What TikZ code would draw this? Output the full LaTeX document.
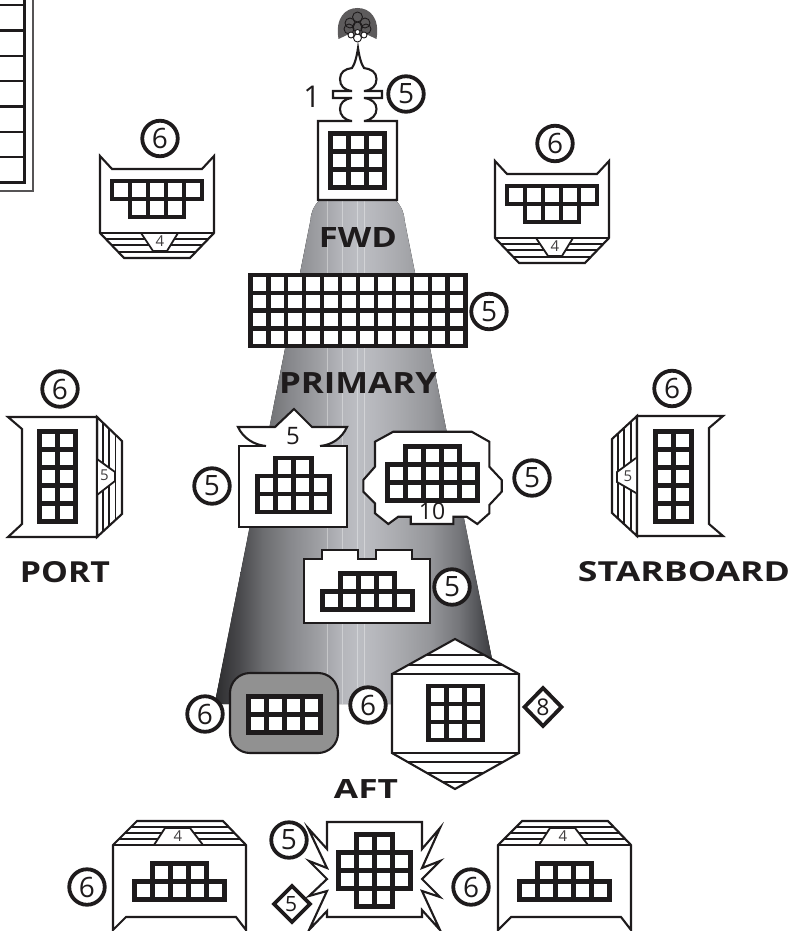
\documentclass[tikz,border=0pt]{standalone}
\usepackage{fontspec}
\usepackage{graphicx}
\setmainfont{Open Sans}
\definecolor{ink}{HTML}{1E1B1C}
\newcommand{\cellgrid}[3]{%
  \foreach \cc/\rr in {#3} {\draw[gridcell] ({#1+\cc*18},{#2+\rr*18}) rectangle ++(18,18);}}
\newcommand{\capword}[5]{\node[caplabel] (#1) at (#2,#3) {\resizebox{#4pt}{#5pt}{\bfseries\MakeUppercase{#1}}};}
\newcommand{\fwdblock}[4]{%
  \begin{scope}[shift={(#1,#2)}]
    \draw[outline] (100,156) -- (112,169) -- (202,169) -- (214,156) -- (214,233) -- (190,258) -- (124,258) -- (100,233) -- cycle;
    \begin{scope}
      \clip (100,233) -- (214,233) -- (190,258) -- (124,258) -- cycle;
      \foreach \yy in {239,245,252} {\draw[stripe] (100,\yy) -- (214,\yy);}
    \end{scope}
    \draw[outline] (100,233) -- (214,233);
    \fill[white] (141,234.2) -- (178,234.2) -- (167,251) -- (153,251) -- cycle;
    \draw[stripe] (141,233) -- (153,251) -- (167,251) -- (178,233);
    \node[tiny] (#3) at (160,241) {4};
    \cellgrid{112}{181}{0/0,1/0,2/0,3/0,4/0,1/1,2/1,3/1}
    \node[badge] (#4) at (160,138.5) {6};
  \end{scope}}
\newcommand{\aftblock}[2]{%
  \begin{scope}[shift={(#1,0)}]
    \draw[outline] (113,845) -- (137,821) -- (223,821) -- (246,845) -- (246,930) -- (236,917) -- (126,917) -- (113,930) -- cycle;
    \begin{scope}
      \clip (113,845) -- (137,821) -- (223,821) -- (246,845) -- cycle;
      \foreach \yy in {827,833,839} {\draw[stripe] (100,\yy) -- (240,\yy);}
    \end{scope}
    \draw[outline] (113,845) -- (246,845);
    \fill[white] (165,828) -- (190,828) -- (203,844) -- (154,844) -- cycle;
    \draw[stripe] (154,845) -- (165,828) -- (190,828) -- (203,845);
    \node[tiny] (#2) at (178,836) {4};
    \cellgrid{134.5}{863.5}{1/0,2/0,3/0,0/1,1/1,2/1,3/1,4/1}
  \end{scope}}
\tikzset{
  outline/.style={draw=ink,line width=2.1pt,fill=white,line join=miter},
  stripe/.style={draw=ink,line width=1.8pt},
  gridcell/.style={draw=ink,line width=4.3pt,fill=white},
  badge/.style={circle,draw=ink,line width=3.8pt,fill=white,minimum size=35.5pt,inner sep=0pt,text=ink,font=\fontsize{28}{28}\selectfont},
  tiny/.style={inner sep=0pt,text=ink!85,font=\fontsize{15}{15}\selectfont},
  caplabel/.style={inner sep=0pt,text=ink},
  diam/.style={draw=ink,line width=3.8pt,fill=white},
  band/.style={line width=0pt},
}
\begin{document}
\begin{tikzpicture}[x=1pt,y=-1pt]
\useasboundingbox (0,0) rectangle (792,931);
% cone
\begin{scope}
  \clip (320,200) -- (395,200) .. controls (401,205) and (404,212) .. (404.5,220) -- (501,704) -- (214.6,704) -- (310.5,220) .. controls (311,212) and (314,205) .. (320,200) -- cycle;
  \foreach \xa/\xb/\ca/\cb in {
    214/240/2B2B2D/4A4A4D, 240/262/4A4A4D/6B6C6F, 262/290/6B6C6F/87888C,
    290/320/87888C/A0A1A5, 320/342/A0A1A5/B5B6BB, 342/358/B5B6BB/BCBEC3,
    358/375/BCBEC3/B6B7BC, 375/400/B6B7BC/A8A9AD, 400/430/A8A9AD/95969A,
    430/460/95969A/737478, 460/480/737478/4F5054, 480/502/4F5054/2B2B2D} {
    \definecolor{ca}{HTML}{\ca}\definecolor{cb}{HTML}{\cb}
    \fill[left color=ca,right color=cb,band] (\xa,195) rectangle (\xb+0.4,710);
  }
  \foreach \xx in {327,342,357,364} {\draw[white,opacity=.35,line width=.7pt] (\xx,195) -- (\xx,710);}
\end{scope}
% partial table, upper left
\draw[draw=ink!75,line width=2.2pt] (33,-5) -- (33,191) -- (-5,191);
\draw[draw=ink,line width=2.8pt] (24.5,-5) -- (24.5,182.5);
\foreach \yy in {5,30.5,55.8,81,106.5,131.8,156.8,182.3} {\draw[draw=ink,line width=2.4pt] (-5,\yy) -- (25.5,\yy);}
% dome icon
\fill[ink!72] (338.5,39) .. controls (335,18) and (345,8) .. (357.5,8) .. controls (370,8) and (380,18) .. (376.5,39) -- (368,35) -- (347,35) -- cycle;
\begin{scope}[ink,line width=.9pt]
  \foreach \px/\py in {357.5/17,350/23,365/23,357.5/27,349/29,366/29} {\draw (\px,\py) circle (5);}
  \foreach \px/\py in {351/35,364/35} {\draw[fill=white] (\px,\py) circle (3);}
  \draw[fill=white] (357.5,38) circle (4);
  \draw[fill=white] (357.5,32) circle (2.5);
\end{scope}
% forward post
\draw[outline] (352,121) -- (318,121) -- (318,200) -- (397,200) -- (397,121) -- (364,121)
  .. controls (372,120) and (376.5,115) .. (376.5,109) .. controls (376.5,103) and (372,99) .. (364,98)
  -- (382,98) -- (382,91) -- (364,91)
  .. controls (372,90) and (376.5,86) .. (376.5,79) .. controls (376.5,72) and (371,69) .. (364,68)
  .. controls (361,64) and (359,55) .. (358,48) .. controls (357,55) and (355,64) .. (352,68)
  .. controls (345,69) and (340,72) .. (340,79) .. controls (340,86) and (344,90) .. (352,91)
  -- (333,91) -- (333,98) -- (352,98)
  .. controls (344,99) and (340,103) .. (340,109) .. controls (340,115) and (344,120) .. (352,121);
\node[inner sep=0pt,text=ink,font=\fontsize{30}{30}\selectfont] (one) at (312,97) {1};
\node[badge] (bfwd) at (406,94) {5};
\cellgrid{330.5}{133.5}{0/0,1/0,2/0,0/1,1/1,2/1,0/2,1/2,2/2}
% forward side blocks
\fwdblock{0}{0}{fl}{bfl}
\fwdblock{395}{5}{fr}{bfr}
% labels
\capword{Fwd}{358}{237}{78}{20}
% primary
\foreach \rr in {0,1,2,3} {\foreach \cc in {0,...,11} {\draw[gridcell] ({250.5+\cc*17.92},{274.8+\rr*17.85}) rectangle ++(17.92,17.85);}}
\node[badge] (bprim) at (489,311.5) {5};
\capword{Primary}{358}{382.5}{158}{21}
% port
\draw[outline] (97,417) -- (122,441) -- (122,514) -- (97,537) -- cycle;
\foreach \xx in {103,109,115.5} {\draw[stripe] (\xx,{417+(\xx-97)*.96}) -- (\xx,{537-(\xx-97)*.92});}
\draw[outline] (8,417) -- (97,417) -- (97,537) -- (8,537) -- (22,524) -- (22,429) -- cycle;
\fill[white] (98,459) -- (115,472) -- (115,481) -- (98,495) -- cycle;
\draw[stripe] (97,459) -- (115,472) -- (115,481) -- (97,495);
\node[tiny] (pnum) at (104.5,475.5) {5};
\cellgrid{39.5}{431.5}{0/0,1/0,0/1,1/1,0/2,1/2,0/3,1/3,0/4,1/4}
\node[badge] (bport) at (60,389) {6};
\capword{Port}{65}{572.5}{90}{21}
% starboard
\draw[outline] (637,416) -- (612,439) -- (612,513) -- (637,536) -- cycle;
\foreach \xx in {618,624,631} {\draw[stripe] (\xx,{416+(637-\xx)*.92}) -- (\xx,{536-(637-\xx)*.92});}
\draw[outline] (637,416) -- (723,416) -- (709,428) -- (709,524) -- (723,536) -- (637,536) -- cycle;
\fill[white] (636,458) -- (617,472) -- (617,482) -- (636,493) -- cycle;
\draw[stripe] (636,458) -- (617,472) -- (617,482) -- (636,493);
\node[tiny] (snum) at (628,476) {5};
\cellgrid{655.5}{431.5}{0/0,1/0,0/1,1/1,0/2,1/2,0/3,1/3,0/4,1/4}
\node[badge] (bstar) at (672,388.5) {6};
\capword{Starboard}{684}{572}{212}{20}
% hat block
\fill[white] (239,446) rectangle (347,527);
\draw[draw=ink,line width=2.1pt] (266,446) -- (239,446) -- (239,527) -- (347,527) -- (347,446) -- (320,446);
\fill[white] (238,427) -- (275,427) -- (294,409) -- (312,427) -- (347,427) .. controls (342,438) and (332,445) .. (320,446) -- (266,446) .. controls (254,445) and (243,438) .. (238,427) -- cycle;
\draw[draw=ink,line width=2.1pt] (266,446) .. controls (254,445) and (243,438) .. (238,427) -- (275,427) -- (294,409) -- (312,427) -- (347,427) .. controls (342,438) and (332,445) .. (320,446);
\node[inner sep=0pt,text=ink,font=\fontsize{24}{24}\selectfont] (hnum) at (293,436.5) {5};
\cellgrid{257.5}{458}{1/0,2/0,0/1,1/1,2/1,3/1,0/2,1/2,2/2,3/2}
\node[badge] (bhat) at (212,486) {5};
% octagonal block
\draw[outline] (375,441.7) -- (393.3,431.7) -- (471.7,431.7) -- (489.3,441.7) -- (489.3,466.7) -- (501.7,480) -- (501.7,491.7) -- (489.3,505) -- (489.3,513.3) -- (477.3,524) -- (466.7,516.7) -- (453.3,516.7) -- (453.3,524) -- (410.7,524) -- (410.7,516.7) -- (398.3,516.7) -- (388.3,524) -- (375,513.3) -- (375,503.3) -- (363.3,491.7) -- (363.3,480) -- (375,466.7) -- cycle;
\cellgrid{387.5}{446.5}{1/0,2/0,3/0,0/1,1/1,2/1,3/1,4/1,0/2,1/2,2/2,3/2,4/2}
\node[inner sep=0pt,text=ink,font=\fontsize{23}{23}\selectfont] (onum) at (432,511.5) {10};
\node[badge] (boct) at (532,478) {5};
% notched block
\draw[outline] (304,559.3) -- (322.3,559.3) -- (322.3,550) -- (357.7,550) -- (357.7,559.3) -- (376,559.3) -- (376,550) -- (411.7,550) -- (411.7,559.3) -- (430,559.3) -- (430,623.3) -- (304,623.3) -- cycle;
\cellgrid{322.5}{573.5}{1/0,2/0,3/0,0/1,1/1,2/1,3/1,4/1}
\node[badge] (bnotch) at (452,587) {5};
% aft rounded block
\draw[draw=ink,line width=2.1pt,fill=black!43,rounded corners=20pt] (230,673) rectangle (338,753);
\cellgrid{248.5}{696.5}{0/0,1/0,2/0,3/0,0/1,1/1,2/1,3/1}
\node[badge] (brl) at (205,714) {6};
\node[badge] (brr) at (368,705) {6};
% hexagon
\draw[outline] (455,639) -- (519,674) -- (519,753) -- (455,789) -- (392,753) -- (392,674) -- cycle;
\begin{scope}
  \clip (455,639) -- (519,674) -- (519,753) -- (455,789) -- (392,753) -- (392,674) -- cycle;
  \foreach \yy in {655,665,674,753,762,773,782} {\draw[stripe] (385,\yy) -- (525,\yy);}
\end{scope}
\cellgrid{428.5}{686}{0/0,1/0,2/0,0/1,1/1,2/1,0/2,1/2,2/2}
\draw[diam] (524.5,707) -- (543,688) -- (561.5,707) -- (543,726) -- cycle;
\node[inner sep=0pt,text=ink,font=\fontsize{23}{23}\selectfont] (dnum) at (543,707) {8};
\capword{Aft}{366}{788.5}{64}{19}
% bottom blocks
\aftblock{0}{al}
\aftblock{385}{ar}
\node[badge] (bal) at (87,887) {6};
\node[badge] (bar) at (471,887) {6};
% star block
\draw[outline] (327,822) -- (422,822) -- (422,849) -- (440,828) -- (422,868) -- (440,861) -- (422,879) -- (440,897) -- (422,891) -- (440,930) -- (422,910) -- (422,917) -- (327,917) -- (327,911) -- (309,930) -- (327,891) -- (309,896) -- (327,879) -- (309,861) -- (327,868) -- (308,828) -- (327,849) -- cycle;
\cellgrid{338.5}{834.5}{1/0,2/0,0/1,1/1,2/1,3/1,0/2,1/2,2/2,3/2,1/3,2/3}
\node[badge] (bst) at (289,840) {5};
\draw[diam] (274,904) -- (292,886) -- (310,904) -- (292,922) -- cycle;
\node[inner sep=0pt,text=ink,font=\fontsize{21}{21}\selectfont] (d5) at (291,904) {5};
\end{tikzpicture}
\end{document}
